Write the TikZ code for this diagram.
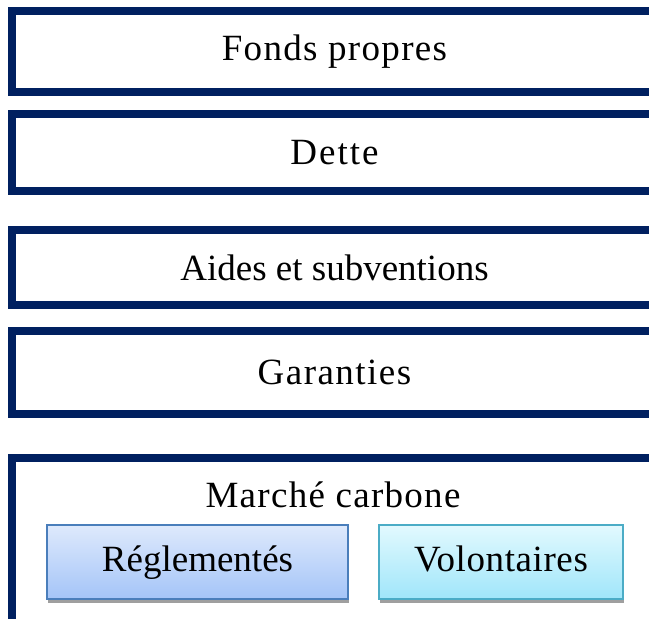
\documentclass[tikz,border=0pt]{standalone}
\usepackage{fontspec}
\setmainfont{Liberation Serif}
\usetikzlibrary{positioning, shadows}
\definecolor{navyframe}{RGB}{0, 32, 96}
\definecolor{reglborder}{RGB}{74, 126, 187}
\definecolor{reglTop}{RGB}{222, 233, 252}
\definecolor{reglBot}{RGB}{164, 196, 248}
\definecolor{voloborder}{RGB}{75, 172, 198}
\definecolor{voloTop}{RGB}{226, 249, 254}
\definecolor{voloBot}{RGB}{160, 230, 250}

\begin{document}
\begin{tikzpicture}[x=1pt, y=-1pt,
        spaced/.style={font=\fontsize{37}{44}\selectfont\addfontfeature{LetterSpace=#1}},
        fbox/.style={inner sep=0pt, minimum width=645pt},
        frame/.style={draw=navyframe, line width=8pt, miter limit=10},
        sub/.style={draw, line width=1.2pt, inner sep=0pt,
            minimum height=74pt, text height=26pt, text depth=8pt,
            drop shadow={shadow xshift=1pt, shadow yshift=-4pt,
                fill=gray!75, opacity=1}}
    ]
    \useasboundingbox (0,0) rectangle (649,619);
    \node[fbox, spaced=3.6, minimum height=80pt] (fonds) at (334.5, 51.5) {Fonds propres};
    \node[fbox, spaced=5.5, minimum height=77pt] (dette) at (334.5, 152.5) {Dette};
    \node[fbox, spaced=0, minimum height=75pt] (aides) at (334.5, 267.5) {Aides et subventions};
    \node[fbox, spaced=4, minimum height=82pt] (garanties) at (334.5, 372.5) {Garanties};
    \node[fbox, minimum height=182pt] (marche) at (334.5, 549) {};
    % open frames, right side left out
    \foreach \b in {fonds, dette, aides, garanties, marche}
        \draw[frame] (\b.north east) -- (\b.north west) -- (\b.south west) -- (\b.south east);
    \node[anchor=base, spaced=3.5] (marchelbl) at (333, 507) {Marché carbone};
    \node[sub, spaced=0, draw=reglborder, top color=reglTop, bottom color=reglBot,
        minimum width=301pt] (regl) at (197.5, 562) {Réglementés};
    \node[sub, spaced=1.6, draw=voloborder, top color=voloTop, bottom color=voloBot,
        minimum width=244pt] (volo) at (501, 562) {Volontaires};
\end{tikzpicture}
\end{document}
